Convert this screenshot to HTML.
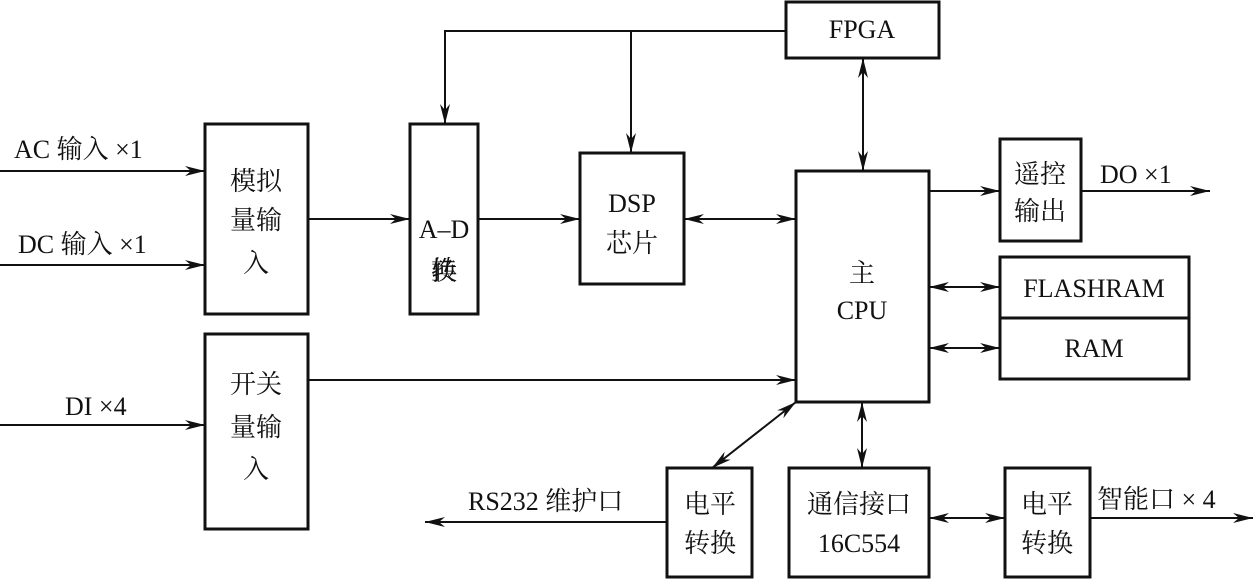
<!DOCTYPE html>
<html><head><meta charset="utf-8"><style>
html,body{margin:0;padding:0;background:#fff;}
svg{display:block;}
text{font-family:"Liberation Serif","Noto Serif CJK SC",serif;font-size:26px;fill:#111;}
</style></head><body>
<svg width="1255" height="580" viewBox="0 0 1255 580" xmlns="http://www.w3.org/2000/svg">
<defs>
<marker id="a" viewBox="0 0 20 10" refX="20" refY="5" markerWidth="20" markerHeight="10" markerUnits="userSpaceOnUse" orient="auto-start-reverse">
<path d="M0,0 L20,5 L0,10 L6,5 Z" fill="#111"/></marker>
</defs>
<g fill="none" stroke="#111" stroke-width="3">
<rect x="205" y="124" width="103" height="190"/>
<rect x="410" y="124" width="68" height="190"/>
<rect x="580" y="153" width="104" height="131"/>
<rect x="205" y="334" width="103" height="195"/>
<rect x="786" y="2" width="153" height="56"/>
<rect x="796" y="171" width="133" height="231"/>
<rect x="1000" y="139" width="81" height="102"/>
<rect x="1000" y="257" width="189" height="122"/>
<line x1="1000" y1="318" x2="1189" y2="318"/>
<rect x="667" y="468" width="85" height="109"/>
<rect x="789" y="468" width="140" height="109"/>
<rect x="1005" y="468" width="85" height="109"/>
</g>
<g fill="none" stroke="#111" stroke-width="2">
<line x1="0" y1="171" x2="205" y2="171" marker-end="url(#a)"/>
<line x1="0" y1="265" x2="205" y2="265" marker-end="url(#a)"/>
<line x1="0" y1="425" x2="205" y2="425" marker-end="url(#a)"/>
<line x1="308" y1="219" x2="410" y2="219" marker-end="url(#a)"/>
<line x1="478" y1="219" x2="580" y2="219" marker-end="url(#a)"/>
<line x1="684" y1="219" x2="796" y2="219" marker-start="url(#a)" marker-end="url(#a)"/>
<polyline points="786,31 445,31 445,124" marker-end="url(#a)"/>
<line x1="631" y1="31" x2="631" y2="153" marker-end="url(#a)"/>
<line x1="863" y1="58" x2="863" y2="171" marker-start="url(#a)" marker-end="url(#a)"/>
<line x1="308" y1="380" x2="796" y2="380" marker-end="url(#a)"/>
<line x1="929" y1="191" x2="1000" y2="191" marker-end="url(#a)"/>
<line x1="1081" y1="191" x2="1210" y2="191" marker-end="url(#a)"/>
<line x1="929" y1="287" x2="1000" y2="287" marker-start="url(#a)" marker-end="url(#a)"/>
<line x1="929" y1="348" x2="1000" y2="348" marker-start="url(#a)" marker-end="url(#a)"/>
<line x1="796" y1="402" x2="712" y2="468" marker-start="url(#a)" marker-end="url(#a)"/>
<line x1="862" y1="402" x2="862" y2="468" marker-start="url(#a)" marker-end="url(#a)"/>
<line x1="667" y1="522" x2="425" y2="522" marker-end="url(#a)"/>
<line x1="929" y1="518" x2="1005" y2="518" marker-start="url(#a)" marker-end="url(#a)"/>
<line x1="1090" y1="518" x2="1253" y2="518" marker-end="url(#a)"/>
</g>
<text x="14" y="158">AC 输入 ×1</text>
<text x="18" y="253">DC 输入 ×1</text>
<text x="65" y="415">DI ×4</text>
<text x="256" y="190" text-anchor="middle">模拟</text>
<text x="256" y="229" text-anchor="middle">量输</text>
<text x="256" y="272" text-anchor="middle">入</text>
<text x="444" y="238" text-anchor="middle">A–D</text>
<text x="444" y="279" text-anchor="middle">转</text>
<text x="444" y="316" text-anchor="middle" dy="-36">换</text>
<text x="632" y="212" text-anchor="middle">DSP</text>
<text x="632" y="252" text-anchor="middle">芯片</text>
<text x="256" y="393" text-anchor="middle">开关</text>
<text x="256" y="436" text-anchor="middle">量输</text>
<text x="256" y="478" text-anchor="middle">入</text>
<text x="862" y="38" text-anchor="middle">FPGA</text>
<text x="862" y="282" text-anchor="middle">主</text>
<text x="862" y="319" text-anchor="middle">CPU</text>
<text x="1040" y="183" text-anchor="middle">遥控</text>
<text x="1040" y="220" text-anchor="middle">输出</text>
<text x="1100" y="183">DO ×1</text>
<text x="1094" y="297" text-anchor="middle">FLASHRAM</text>
<text x="1094" y="357" text-anchor="middle">RAM</text>
<text x="468" y="510">RS232 维护口</text>
<text x="710" y="513" text-anchor="middle">电平</text>
<text x="710" y="552" text-anchor="middle">转换</text>
<text x="859" y="513" text-anchor="middle">通信接口</text>
<text x="859" y="552" text-anchor="middle">16C554</text>
<text x="1047" y="513" text-anchor="middle">电平</text>
<text x="1047" y="552" text-anchor="middle">转换</text>
<text x="1097" y="508">智能口 × 4</text>
</svg>
</body></html>
